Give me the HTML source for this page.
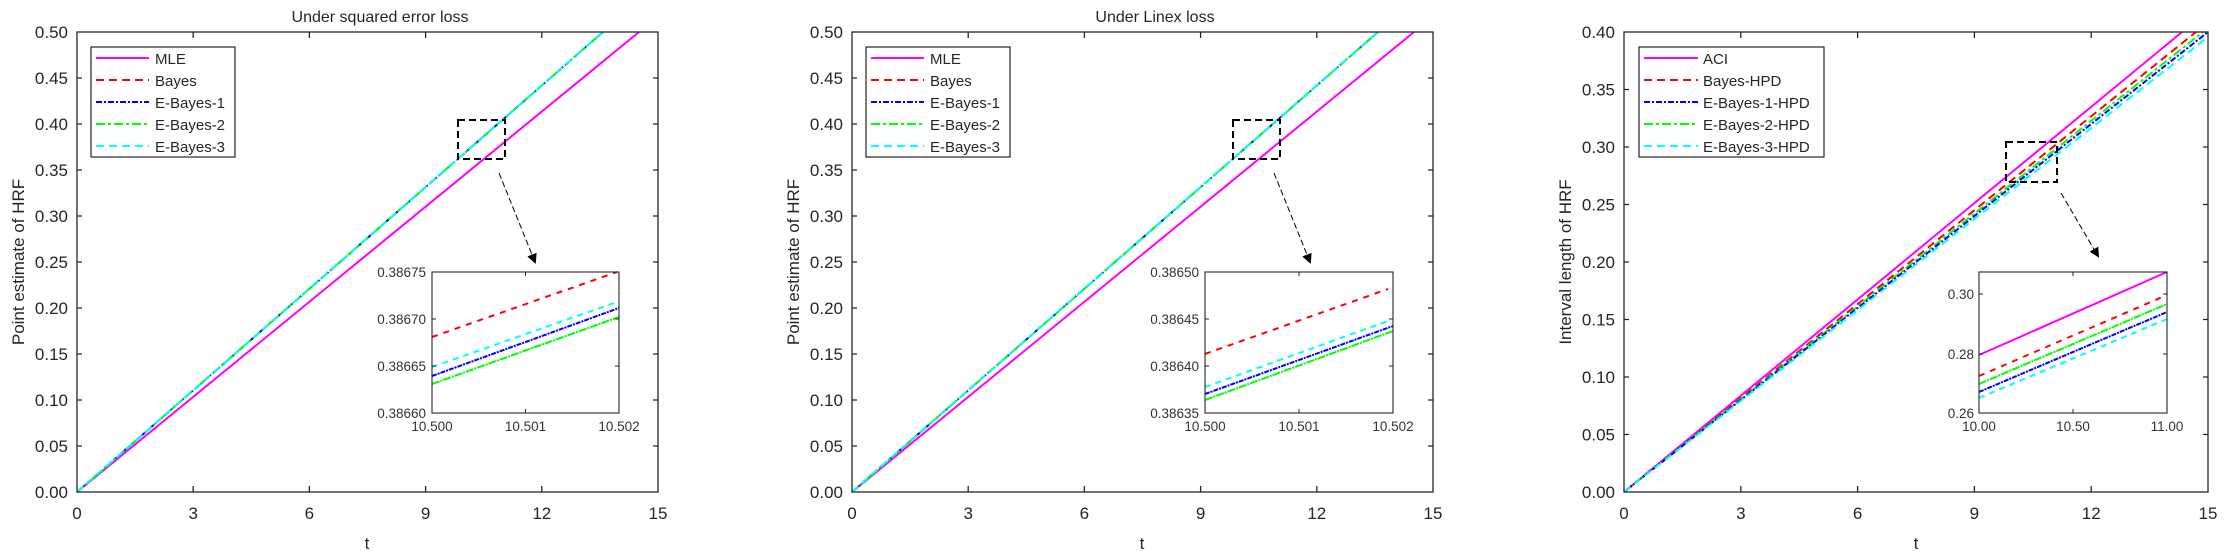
<!DOCTYPE html>
<html><head><meta charset="utf-8"><style>
html,body{margin:0;padding:0;background:#fff;}
svg{display:block;}
.tk{font-family:"Liberation Sans",sans-serif;font-size:17px;fill:#262626;}
.lg{font-family:"Liberation Sans",sans-serif;font-size:15px;fill:#262626;}
.in{font-family:"Liberation Sans",sans-serif;font-size:13.5px;fill:#333;}
.ax{fill:none;stroke:#262626;stroke-width:1.3;}
</style></head><body>
<svg width="2226" height="551" viewBox="0 0 2226 551" xmlns="http://www.w3.org/2000/svg">
<defs>
<marker id="ah" markerWidth="10" markerHeight="10" refX="8" refY="5" orient="auto" markerUnits="userSpaceOnUse">
<path d="M0,0 L10,5 L0,10 z" fill="#000"/></marker>
<g id="lgnd">
<rect x="0" y="0" width="144" height="110" fill="#fff" stroke="#262626" stroke-width="1.2"/>
<line x1="5" y1="11" x2="58" y2="11" stroke="#ff00ff" stroke-width="2"/>
<line x1="5" y1="33" x2="58" y2="33" stroke="#ff0000" stroke-width="2" stroke-dasharray="8,5"/>
<line x1="5" y1="55" x2="58" y2="55" stroke="#0000ff" stroke-width="2" stroke-dasharray="6,2,2,2"/>
<line x1="5" y1="77" x2="58" y2="77" stroke="#00ff00" stroke-width="2" stroke-dasharray="9,3,3,3"/>
<line x1="5" y1="99" x2="58" y2="99" stroke="#00ffff" stroke-width="2" stroke-dasharray="8,5"/>
</g>
</defs>

<!-- ===== Panel 1 ===== -->
<text x="380" y="22" text-anchor="middle" class="tk" style="font-size:16px">Under squared error loss</text>
<g>
<line x1="77" y1="492" x2="639" y2="32" stroke="#ff00ff" stroke-width="2"/>
<line x1="77" y1="492" x2="603" y2="32" stroke="#ff0000" stroke-width="2" stroke-dasharray="8,5"/>
<line x1="77" y1="492" x2="603" y2="32" stroke="#0000ff" stroke-width="2" stroke-dasharray="6,2,2,2"/>
<line x1="77" y1="492" x2="603" y2="32" stroke="#00ff00" stroke-width="2" stroke-dasharray="9,3,3,3"/>
<line x1="77" y1="492" x2="603" y2="32" stroke="#00ffff" stroke-width="2" stroke-dasharray="8,5"/>
</g>
<rect x="77" y="32" width="581" height="460" class="ax"/>
<path class="ax" d="M77,446h5M77,400h5M77,354h5M77,308h5M77,262h5M77,216h5M77,170h5M77,124h5M77,78h5M658,446h-5M658,400h-5M658,354h-5M658,308h-5M658,262h-5M658,216h-5M658,170h-5M658,124h-5M658,78h-5M193.2,492v-6M309.4,492v-6M425.6,492v-6M541.8,492v-6M193.2,32v6M309.4,32v6M425.6,32v6M541.8,32v6"/>
<g class="tk" text-anchor="end">
<text x="68" y="498">0.00</text><text x="68" y="452">0.05</text><text x="68" y="406">0.10</text><text x="68" y="360">0.15</text><text x="68" y="314">0.20</text><text x="68" y="268">0.25</text><text x="68" y="222">0.30</text><text x="68" y="176">0.35</text><text x="68" y="130">0.40</text><text x="68" y="84">0.45</text><text x="68" y="38">0.50</text>
</g>
<g class="tk" text-anchor="middle">
<text x="77" y="519">0</text><text x="193.2" y="519">3</text><text x="309.4" y="519">6</text><text x="425.6" y="519">9</text><text x="541.8" y="519">12</text><text x="658" y="519">15</text>
<text x="367" y="549">t</text>
<text transform="translate(24,262) rotate(-90)">Point estimate of HRF</text>
</g>
<use href="#lgnd" x="91" y="47"/>
<g class="lg"><text x="155" y="64">MLE</text><text x="155" y="86">Bayes</text><text x="155" y="108">E-Bayes-1</text><text x="155" y="130">E-Bayes-2</text><text x="155" y="152">E-Bayes-3</text></g>
<rect x="458" y="120" width="47" height="39" fill="none" stroke="#000" stroke-width="2" stroke-dasharray="7,4"/>
<line x1="499" y1="173" x2="535" y2="262" stroke="#000" stroke-width="1" stroke-dasharray="6,3" marker-end="url(#ah)"/>
<!-- inset 1 -->
<rect x="432" y="272" width="187" height="141" fill="#fff"/>
<line x1="432" y1="337" x2="617" y2="272" stroke="#ff0000" stroke-width="2" stroke-dasharray="6,6"/>
<line x1="432" y1="367" x2="617" y2="302" stroke="#00ffff" stroke-width="2" stroke-dasharray="6,5"/>
<line x1="432" y1="376" x2="619" y2="308" stroke="#0000ff" stroke-width="2" stroke-dasharray="5,1,2,1"/>
<line x1="432" y1="384" x2="619" y2="317" stroke="#00ff00" stroke-width="2" stroke-dasharray="8,1,2,1"/>
<rect x="432" y="272" width="187" height="141" fill="none" stroke="#262626" stroke-width="1.1"/>
<path stroke="#262626" fill="none" d="M432,319h4M432,366h4M619,319h-4M619,366h-4M525.5,413v-4M525.5,272v4"/>
<g class="in" text-anchor="end"><text x="426" y="277">0.38675</text><text x="426" y="324">0.38670</text><text x="426" y="371">0.38665</text><text x="426" y="418">0.38660</text></g>
<g class="in" text-anchor="middle"><text x="432" y="431">10.500</text><text x="525.5" y="431">10.501</text><text x="619" y="431">10.502</text></g>

<!-- ===== Panel 2 ===== -->
<text x="1155" y="22" text-anchor="middle" class="tk" style="font-size:16px">Under Linex loss</text>
<g>
<line x1="852" y1="492" x2="1414" y2="32" stroke="#ff00ff" stroke-width="2"/>
<line x1="852" y1="492" x2="1378" y2="32" stroke="#ff0000" stroke-width="2" stroke-dasharray="8,5"/>
<line x1="852" y1="492" x2="1378" y2="32" stroke="#0000ff" stroke-width="2" stroke-dasharray="6,2,2,2"/>
<line x1="852" y1="492" x2="1378" y2="32" stroke="#00ff00" stroke-width="2" stroke-dasharray="9,3,3,3"/>
<line x1="852" y1="492" x2="1378" y2="32" stroke="#00ffff" stroke-width="2" stroke-dasharray="8,5"/>
</g>
<rect x="852" y="32" width="581" height="460" class="ax"/>
<path class="ax" d="M852,446h5M852,400h5M852,354h5M852,308h5M852,262h5M852,216h5M852,170h5M852,124h5M852,78h5M1433,446h-5M1433,400h-5M1433,354h-5M1433,308h-5M1433,262h-5M1433,216h-5M1433,170h-5M1433,124h-5M1433,78h-5M968.2,492v-6M1084.4,492v-6M1200.6,492v-6M1316.8,492v-6M968.2,32v6M1084.4,32v6M1200.6,32v6M1316.8,32v6"/>
<g class="tk" text-anchor="end">
<text x="843" y="498">0.00</text><text x="843" y="452">0.05</text><text x="843" y="406">0.10</text><text x="843" y="360">0.15</text><text x="843" y="314">0.20</text><text x="843" y="268">0.25</text><text x="843" y="222">0.30</text><text x="843" y="176">0.35</text><text x="843" y="130">0.40</text><text x="843" y="84">0.45</text><text x="843" y="38">0.50</text>
</g>
<g class="tk" text-anchor="middle">
<text x="852" y="519">0</text><text x="968.2" y="519">3</text><text x="1084.4" y="519">6</text><text x="1200.6" y="519">9</text><text x="1316.8" y="519">12</text><text x="1433" y="519">15</text>
<text x="1142" y="549">t</text>
<text transform="translate(799,262) rotate(-90)">Point estimate of HRF</text>
</g>
<use href="#lgnd" x="866" y="47"/>
<g class="lg"><text x="930" y="64">MLE</text><text x="930" y="86">Bayes</text><text x="930" y="108">E-Bayes-1</text><text x="930" y="130">E-Bayes-2</text><text x="930" y="152">E-Bayes-3</text></g>
<rect x="1233" y="120" width="47" height="39" fill="none" stroke="#000" stroke-width="2" stroke-dasharray="7,4"/>
<line x1="1274" y1="173" x2="1310" y2="262" stroke="#000" stroke-width="1" stroke-dasharray="6,3" marker-end="url(#ah)"/>
<!-- inset 2 -->
<rect x="1205" y="272" width="188" height="141" fill="#fff"/>
<line x1="1205" y1="354" x2="1388" y2="289" stroke="#ff0000" stroke-width="2" stroke-dasharray="6,6"/>
<line x1="1205" y1="387" x2="1388" y2="321" stroke="#00ffff" stroke-width="2" stroke-dasharray="6,5"/>
<line x1="1205" y1="394" x2="1393" y2="326" stroke="#0000ff" stroke-width="2" stroke-dasharray="5,1,2,1"/>
<line x1="1205" y1="400" x2="1393" y2="331" stroke="#00ff00" stroke-width="2" stroke-dasharray="8,1,2,1"/>
<rect x="1205" y="272" width="188" height="141" fill="none" stroke="#262626" stroke-width="1.1"/>
<path stroke="#262626" fill="none" d="M1205,319h4M1205,366h4M1393,319h-4M1393,366h-4M1299,413v-4M1299,272v4"/>
<g class="in" text-anchor="end"><text x="1199" y="277">0.38650</text><text x="1199" y="324">0.38645</text><text x="1199" y="371">0.38640</text><text x="1199" y="418">0.38635</text></g>
<g class="in" text-anchor="middle"><text x="1205" y="431">10.500</text><text x="1299" y="431">10.501</text><text x="1393" y="431">10.502</text></g>

<!-- ===== Panel 3 ===== -->
<g>
<line x1="1624" y1="492" x2="2182" y2="32" stroke="#ff00ff" stroke-width="2"/>
<line x1="1624" y1="492" x2="2196" y2="32" stroke="#ff0000" stroke-width="2" stroke-dasharray="8,5"/>
<line x1="1624" y1="492" x2="2203" y2="32" stroke="#00ff00" stroke-width="2" stroke-dasharray="9,3,3,3"/>
<line x1="1624" y1="492" x2="2208" y2="32" stroke="#0000ff" stroke-width="2" stroke-dasharray="6,2,2,2"/>
<line x1="1624" y1="492" x2="2208" y2="37" stroke="#00ffff" stroke-width="2" stroke-dasharray="8,5"/>
</g>
<rect x="1624" y="32" width="584" height="460" class="ax"/>
<path class="ax" d="M1624,434.5h5M1624,377h5M1624,319.5h5M1624,262h5M1624,204.5h5M1624,147h5M1624,89.5h5M2208,434.5h-5M2208,377h-5M2208,319.5h-5M2208,262h-5M2208,204.5h-5M2208,147h-5M2208,89.5h-5M1740.8,492v-6M1857.6,492v-6M1974.4,492v-6M2091.2,492v-6M1740.8,32v6M1857.6,32v6M1974.4,32v6M2091.2,32v6"/>
<g class="tk" text-anchor="end">
<text x="1615" y="498">0.00</text><text x="1615" y="440.5">0.05</text><text x="1615" y="383">0.10</text><text x="1615" y="325.5">0.15</text><text x="1615" y="268">0.20</text><text x="1615" y="210.5">0.25</text><text x="1615" y="153">0.30</text><text x="1615" y="95.5">0.35</text><text x="1615" y="38">0.40</text>
</g>
<g class="tk" text-anchor="middle">
<text x="1624" y="519">0</text><text x="1740.8" y="519">3</text><text x="1857.6" y="519">6</text><text x="1974.4" y="519">9</text><text x="2091.2" y="519">12</text><text x="2208" y="519">15</text>
<text x="1916" y="549">t</text>
<text transform="translate(1571,262) rotate(-90)">Interval length of HRF</text>
</g>
<g transform="translate(1639,47)">
<rect x="0" y="0" width="185" height="110" fill="#fff" stroke="#262626" stroke-width="1.2"/>
<line x1="5" y1="11" x2="59" y2="11" stroke="#ff00ff" stroke-width="2"/>
<line x1="5" y1="33" x2="59" y2="33" stroke="#ff0000" stroke-width="2" stroke-dasharray="8,5"/>
<line x1="5" y1="55" x2="59" y2="55" stroke="#0000ff" stroke-width="2" stroke-dasharray="6,2,2,2"/>
<line x1="5" y1="77" x2="59" y2="77" stroke="#00ff00" stroke-width="2" stroke-dasharray="9,3,3,3"/>
<line x1="5" y1="99" x2="59" y2="99" stroke="#00ffff" stroke-width="2" stroke-dasharray="8,5"/>
</g>
<g class="lg"><text x="1703" y="64">ACI</text><text x="1703" y="86">Bayes-HPD</text><text x="1703" y="108">E-Bayes-1-HPD</text><text x="1703" y="130">E-Bayes-2-HPD</text><text x="1703" y="152">E-Bayes-3-HPD</text></g>
<rect x="2006" y="142" width="51" height="40" fill="none" stroke="#000" stroke-width="2" stroke-dasharray="7,4"/>
<line x1="2061" y1="193" x2="2098" y2="256" stroke="#000" stroke-width="1" stroke-dasharray="6,3" marker-end="url(#ah)"/>
<!-- inset 3 -->
<rect x="1979" y="272" width="188" height="141" fill="#fff"/>
<line x1="1979" y1="355" x2="2167" y2="272" stroke="#ff00ff" stroke-width="2"/>
<line x1="1979" y1="376" x2="2167" y2="295" stroke="#ff0000" stroke-width="2" stroke-dasharray="6,6"/>
<line x1="1979" y1="384" x2="2167" y2="304" stroke="#00ff00" stroke-width="2" stroke-dasharray="8,1,2,1"/>
<line x1="1979" y1="392" x2="2167" y2="312" stroke="#0000ff" stroke-width="2" stroke-dasharray="5,1,2,1"/>
<line x1="1979" y1="398" x2="2167" y2="319" stroke="#00ffff" stroke-width="2" stroke-dasharray="6,5"/>
<rect x="1979" y="272" width="188" height="141" fill="none" stroke="#262626" stroke-width="1.1"/>
<path stroke="#262626" fill="none" d="M1979,294h4M1979,354h4M2167,294h-4M2167,354h-4M2073,413v-4M2073,272v4"/>
<g class="in" text-anchor="end"><text x="1974" y="299">0.30</text><text x="1974" y="359">0.28</text><text x="1974" y="418">0.26</text></g>
<g class="in" text-anchor="middle"><text x="1979" y="431">10.00</text><text x="2073" y="431">10.50</text><text x="2167" y="431">11.00</text></g>
</svg>
</body></html>
